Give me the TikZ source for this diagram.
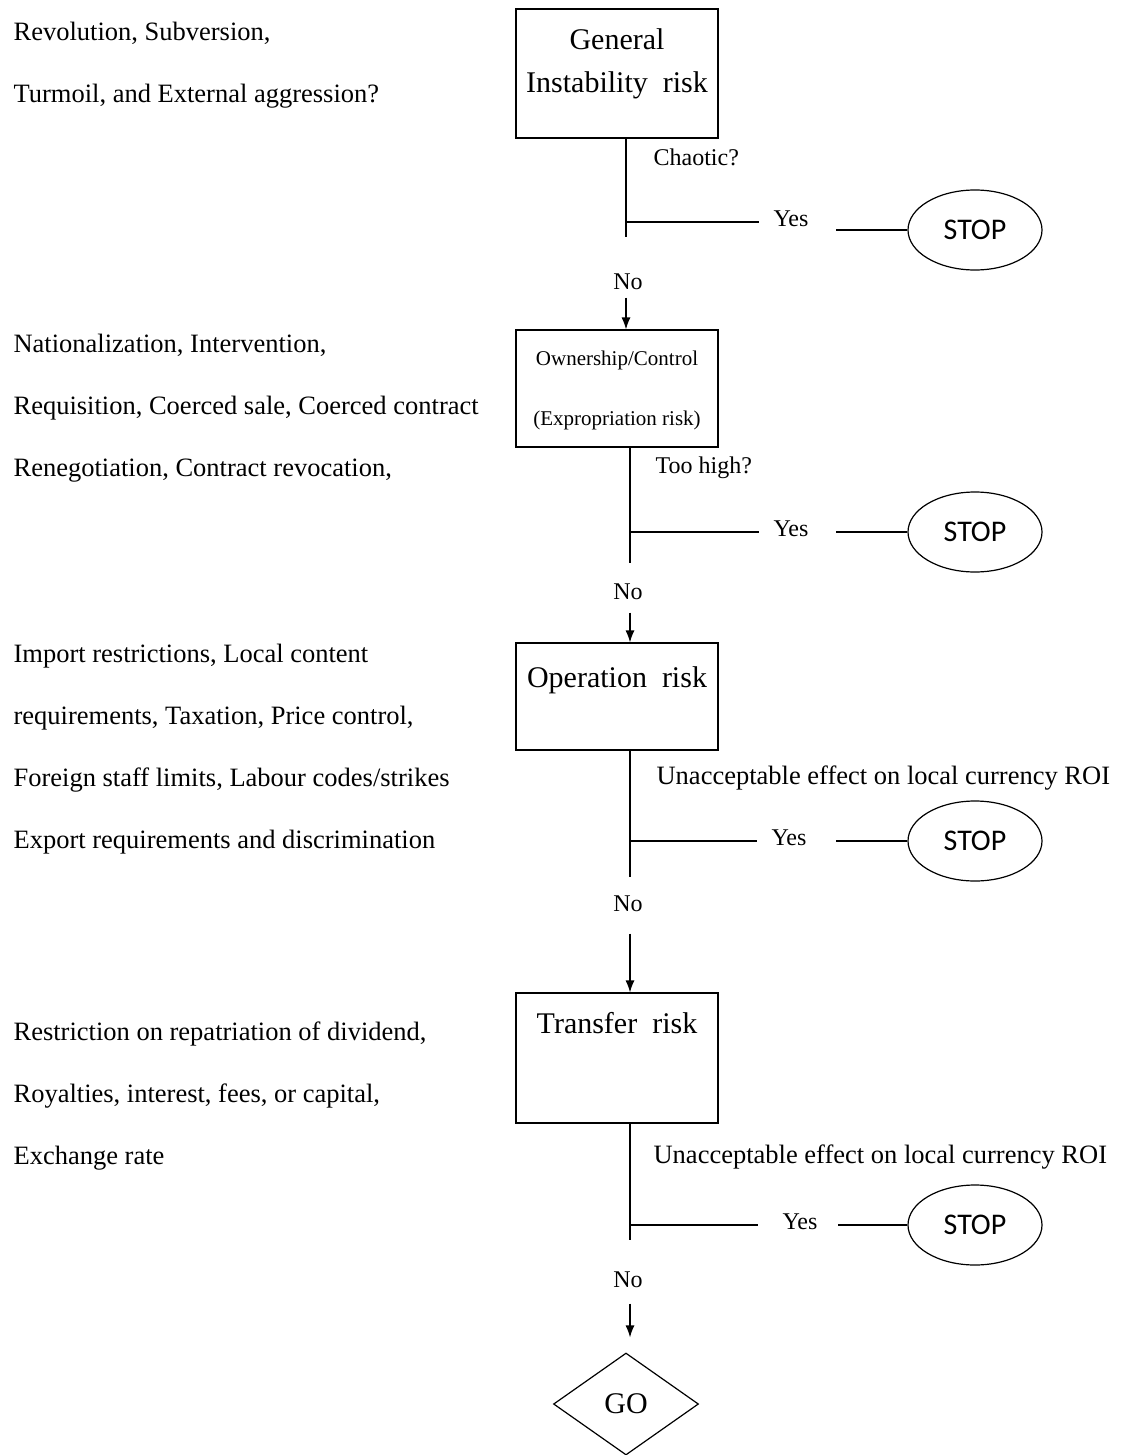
\documentclass[tikz,border=0pt]{standalone}
\usepackage{fontspec}
\setmainfont{Liberation Serif}
\newfontfamily\stopfont{Carlito}
\usetikzlibrary{positioning,shapes.geometric,arrows.meta}

\begin{document}
\begin{tikzpicture}[x=1pt,y=-1pt,node distance=10pt,on grid,
  line width=1.2pt,>={Latex[length=12pt,width=9pt]},
  riskbox/.style={draw,rectangle,minimum width=202pt,inner sep=0pt,
    align=center,font=\fontsize{30}{43}\selectfont},
  stopnode/.style={draw,ellipse,minimum width=134pt,minimum height=80pt,
    inner sep=0pt,font=\stopfont\fontsize{30}{36}\selectfont},
  gonode/.style={draw,diamond,minimum width=145pt,minimum height=102pt,
    inner sep=0pt,font=\fontsize{30}{36}\selectfont},
  lbl/.style={inner sep=0pt,font=\fontsize{24}{29}\selectfont},
  roi/.style={lbl,anchor=west,font=\fontsize{26.5}{30}\selectfont},
  factors/.style={anchor=base west,align=left,inner sep=0pt,
    font=\fontsize{26.5}{62}\selectfont}]

  \useasboundingbox (0,0) rectangle (1120,1455);

  % risk boxes
  \node[riskbox,text height=84pt,text depth=45pt] (b1) at (617,73.5)
    {General\\Instability\ \ risk};
  \node[riskbox,text height=95pt,text depth=22pt,
    font=\fontsize{21}{60}\selectfont] (b2) [below=315pt of b1]
    {Ownership/Control\\(Expropriation risk)};
  \node[riskbox,text height=44pt,text depth=63pt] (b3) [below=308pt of b2]
    {Operation\ \ risk};
  \node[riskbox,text height=40pt,text depth=90pt] (b4) [below=361.5pt of b3]
    {Transfer\ \ risk};
  \node[gonode] (go) [below right=346pt and 9pt of b4] {GO};

  % factors on the left
  \node[factors] (f1) at (13,103)
    {Revolution, Subversion,\\Turmoil, and External aggression?};
  \node[factors] (f2) at (13,476)
    {Nationalization, Intervention,\\Requisition, Coerced sale, Coerced contract\\Renegotiation, Contract revocation,};
  \node[factors] (f3) at (13,848)
    {Import restrictions, Local content\\requirements, Taxation, Price control,\\Foreign staff limits, Labour codes/strikes\\Export requirements and discrimination};
  \node[factors] (f4) at (13,1164)
    {Restriction on repatriation of dividend,\\Royalties, interest, fees, or capital,\\Exchange rate};

  % questions
  \node[lbl,anchor=west] (q1) at (653,157) {Chaotic?};
  \node[lbl,anchor=west] (q2) at (655,468) {Too high?};
  \node[roi] (q3) at (656,778) {Unacceptable effect on local currency ROI};
  \node[roi] (q4) at (653,1157) {Unacceptable effect on local currency ROI};

  % branch points
  \coordinate (j1) at (626,222);  \coordinate (e1) at (626,237);
  \coordinate (j2) at (630,532);  \coordinate (e2) at (630,563);
  \coordinate (j3) at (630,841);  \coordinate (e3) at (630,877);
  \coordinate (j4) at (630,1225); \coordinate (e4) at (630,1240);

  % yes / stop
  \node[lbl] (y1) at (791,219) {Yes};
  \node[lbl] (y2) at (791,529) {Yes};
  \node[lbl] (y3) at (789,838) {Yes};
  \node[lbl] (y4) at (800,1222) {Yes};
  \node[stopnode] (s1) at (975,230) {STOP};
  \node[stopnode] (s2) at (975,532) {STOP};
  \node[stopnode] (s3) at (975,841) {STOP};
  \node[stopnode] (s4) at (975,1225) {STOP};

  % no
  \node[lbl] (n1) at (628,282) {No};
  \node[lbl] (n2) at (628,592) {No};
  \node[lbl] (n3) at (628,904) {No};
  \node[lbl] (n4) at (628,1280) {No};

  \draw (b1.south -| e1) -- (e1);
  \draw (b2.south -| e2) -- (e2);
  \draw (b3.south -| e3) -- (e3);
  \draw (b4.south -| e4) -- (e4);

  \draw[shorten >=14pt] (j1) -- (j1 -| y1.west);
  \draw[shorten >=14pt] (j2) -- (j2 -| y2.west);
  \draw[shorten >=14pt] (j3) -- (j3 -| y3.west);
  \draw[shorten >=24pt] (j4) -- (j4 -| y4.west);
  \draw[shorten <=27pt] (y1.east |- s1) -- (s1);
  \draw[shorten <=27pt] (y2.east |- s2) -- (s2);
  \draw[shorten <=29pt] (y3.east |- s3) -- (s3);
  \draw[shorten <=20pt] (y4.east |- s4) -- (s4);

  \draw[->,shorten <=7pt] (n1.south -| j1) -- (b2.north -| j1);
  \draw[->,shorten <=12pt] (n2.south -| j2) -- (b3.north -| j2);
  \draw[->,shorten <=21pt] (n3.south -| j3) -- (b4.north -| j3);
  \draw[->,shorten <=15pt,shorten >=15pt] (n4.south -| j4) -- (go.north -| j4);
\end{tikzpicture}
\end{document}
